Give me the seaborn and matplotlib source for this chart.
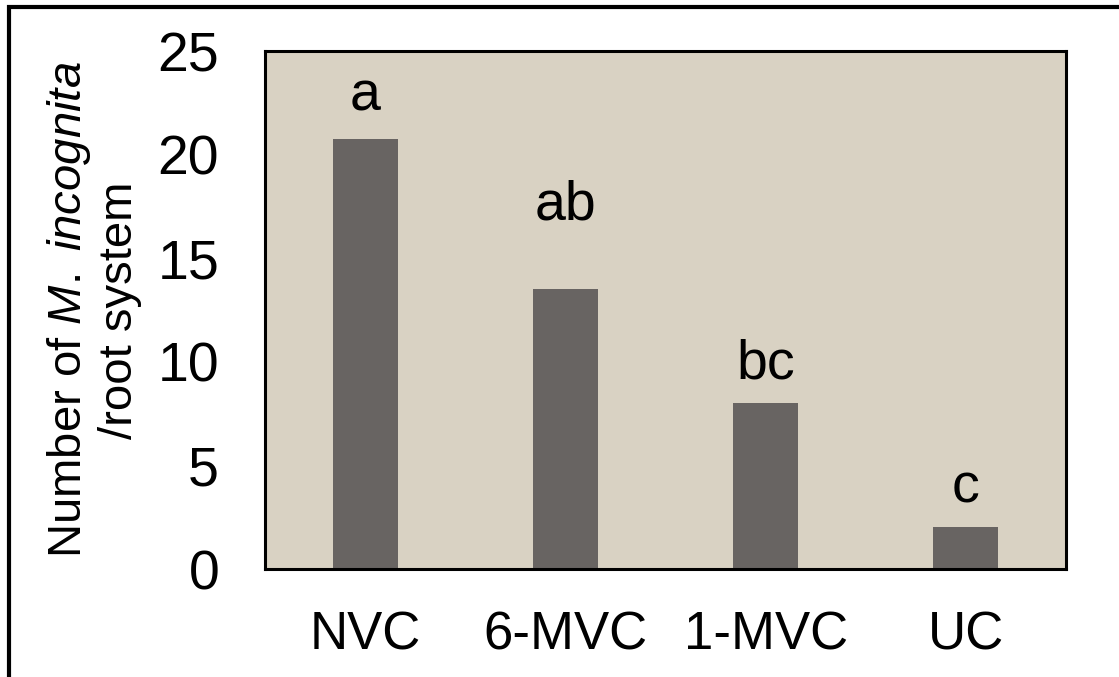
import matplotlib
matplotlib.use("Agg")
import matplotlib.pyplot as plt
import seaborn as sns
import pandas as pd
from matplotlib.patches import Rectangle

categories = ["NVC", "6-MVC", "1-MVC", "UC"]
values = [20.75, 13.5, 8.0, 2.05]
letters = ["a", "ab", "bc", "c"]
letter_y = [22.8, 17.55, 9.85, 3.9]
yticks = [0, 5, 10, 15, 20, 25]

sns.set_theme(style="white")
plt.rcParams['font.family'] = ['Liberation Sans', 'DejaVu Sans']
plt.rcParams['mathtext.fontset'] = 'custom'
plt.rcParams['mathtext.it'] = 'Liberation Sans:italic'
plt.rcParams['mathtext.rm'] = 'Liberation Sans'

df = pd.DataFrame({"cat": categories, "val": values})

fig = plt.figure(figsize=(11.19, 6.77), dpi=100)
W, H = 1119, 677
ax = fig.add_axes([265 / W, 1 - 569 / H, (1066 - 265) / W, (569 - 51) / H])
ax.set_facecolor("#D9D2C3")

sns.barplot(data=df, x="cat", y="val", color="#686462", width=0.325,
            saturation=1, ax=ax, edgecolor="none")

ax.set_ylim(0, 25)
ax.set_yticks(yticks)
ax.set_xlim(-0.5, 3.5)
ax.tick_params(axis="both", length=0, colors="black")
ax.tick_params(axis="y", pad=33, labelsize=40)
ax.tick_params(axis="x", pad=30, labelsize=38)
ax.set_xlabel("")
ax.set_ylabel("Number of $\\it{M.\\ incognita}$\n/root system", fontsize=34,
              linespacing=1.15, labelpad=11, color="black")

for s in ax.spines.values():
    s.set_visible(True)
    s.set_color("black")
    s.set_linewidth(2.2)

for i, (t, y) in enumerate(zip(letters, letter_y)):
    ax.text(i, y, t, ha="center", va="center", fontsize=40, color="black")

# figure border (top and left visible)
fig.patches.append(Rectangle((9 / W, -0.1), 1.2, 1 - 7 / H + 0.1,
                             transform=fig.transFigure, fill=False,
                             edgecolor="black", linewidth=3))

fig.savefig("out.png", dpi=100)
